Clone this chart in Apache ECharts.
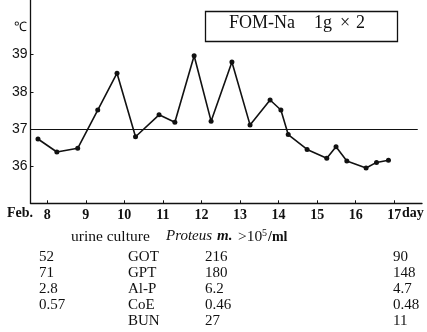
<!DOCTYPE html>
<html>
<head>
<meta charset="utf-8">
<script src="https://cdn.jsdelivr.net/npm/echarts@6/dist/echarts.min.js"></script>
<style>
html,body{margin:0;padding:0;background:#fff;}
#chart{width:427px;height:332px;}
</style>
</head>
<body>
<div id="chart"></div>
<script>
// Day of February (fractional) for each temperature reading
const days = [7.76, 8.25, 8.79, 9.31, 9.81, 10.29, 10.90, 11.31, 11.81, 12.25, 12.79,
              13.26, 13.78, 14.06, 14.25, 14.74, 15.25, 15.49, 15.77, 16.27, 16.54, 16.85];
// Body temperature (℃)
const temps = [36.73, 36.38, 36.48, 37.51, 38.50, 36.79, 37.38, 37.18, 38.97, 37.21, 38.80,
               37.11, 37.78, 37.51, 36.85, 36.45, 36.21, 36.52, 36.14, 35.95, 36.10, 36.16];
const xTicks = [8, 9, 10, 11, 12, 13, 14, 15, 16, 17];
const yTicks = [36, 37, 38, 39];
const normalTemp = 37;
const titleParts = ['FOM-Na', '1g', '×', '2'];

// Laboratory table
const labTests = ['GOT', 'GPT', 'Al-P', 'CoE', 'BUN'];
const labFeb8 = ['52', '71', '2.8', '0.57', ''];
const labFeb12 = ['216', '180', '6.2', '0.46', '27'];
const labFeb17 = ['90', '148', '4.7', '0.48', '11'];

const SERIF = "'Liberation Serif', 'Times New Roman', serif";
const SANS = "'Liberation Sans', Arial, sans-serif";

const chart = echarts.init(document.getElementById('chart'));

const xMin = 7.566, xMax = 17.72, refEnd = 17.61;

const graphics = [];
// Title box
graphics.push({ type: 'rect', left: 203, top: 9, shape: { width: 192, height: 30 },
  style: { fill: 'none', stroke: '#111', lineWidth: 1.3 }, silent: true });
const titleX = [229, 314, 340, 356];
titleParts.forEach((t, i) => {
  graphics.push({ type: 'text', left: titleX[i], top: 14, style: { text: t,
    font: '18px ' + SERIF, fill: '#111' }, silent: true });
});
// Unit label
graphics.push({ type: 'text', left: 14, top: 21, style: { text: '℃',
  font: '13px ' + SERIF, fill: '#111' }, silent: true });
// Axis label extras
graphics.push({ type: 'text', left: 7, top: 206, style: { text: 'Feb.',
  font: 'bold 14px ' + SERIF, fill: '#111' }, silent: true });
graphics.push({ type: 'text', left: 402, top: 206, style: { text: 'day',
  font: 'bold 14px ' + SERIF, fill: '#111' }, silent: true });
// Urine culture line
graphics.push({ type: 'text', left: 71, top: 229, style: { text: 'urine culture',
  font: '15.5px ' + SERIF, fill: '#111' }, silent: true });
graphics.push({ type: 'text', left: 166, top: 229, style: { text: 'Proteus',
  font: 'italic 15px ' + SERIF, fill: '#111' }, silent: true });
graphics.push({ type: 'text', left: 217, top: 229, style: { text: 'm.',
  font: 'italic bold 15px ' + SERIF, fill: '#111' }, silent: true });
graphics.push({ type: 'text', left: 238, top: 229, style: { text: '>10',
  font: '15.5px ' + SERIF, fill: '#111' }, silent: true });
graphics.push({ type: 'text', left: 262, top: 228, style: { text: '5',
  font: '10px ' + SERIF, fill: '#111' }, silent: true });
graphics.push({ type: 'text', left: 268, top: 230, style: { text: '/ml',
  font: 'bold 14px ' + SERIF, fill: '#111' }, silent: true });

// Lab table rows
const colX = [39, 128, 205, 393];
for (let i = 0; i < labTests.length; i++) {
  const y = 257.5 + i * 15.8;
  const cells = [labFeb8[i], labTests[i], labFeb12[i], labFeb17[i]];
  cells.forEach((t, c) => {
    if (!t) return;
    graphics.push({ type: 'text', x: colX[c], y: y, style: { text: t,
      font: '15px ' + SERIF, fill: '#111',
      textVerticalAlign: 'middle', verticalAlign: 'middle' }, silent: true });
  });
}

chart.setOption({
  animation: false,
  backgroundColor: '#fff',
  grid: { left: 30.5, right: 5, top: 0, bottom: 128.7 },
  xAxis: {
    type: 'value', min: xMin, max: xMax,
    splitLine: { show: false },
    axisLine: { show: true, lineStyle: { color: '#111', width: 1.3 } },
    axisTick: { show: true, inside: true, length: 3, customValues: xTicks,
      lineStyle: { color: '#111', width: 1 } },
    axisLabel: { show: true, customValues: xTicks, margin: 5,
      color: '#111', fontFamily: SERIF, fontWeight: 'bold', fontSize: 14 }
  },
  yAxis: {
    type: 'value', min: 35, max: 40.47,
    splitLine: { show: false },
    axisLine: { show: true, lineStyle: { color: '#111', width: 1.3 } },
    axisTick: { show: true, inside: true, length: 3, customValues: yTicks,
      lineStyle: { color: '#111', width: 1 } },
    axisLabel: { show: true, customValues: yTicks, margin: 3,
      color: '#111', fontFamily: SANS, fontSize: 14 }
  },
  series: [{
    type: 'line',
    data: days.map((d, i) => [d, temps[i]]),
    symbol: 'circle', symbolSize: 5,
    itemStyle: { color: '#111' },
    lineStyle: { color: '#111', width: 1.6 },
    silent: true,
    markLine: {
      silent: true, symbol: 'none', label: { show: false },
      lineStyle: { color: '#111', width: 1, type: 'solid' },
      data: [[{ coord: [xMin, normalTemp] }, { coord: [refEnd, normalTemp] }]]
    }
  }],
  graphic: graphics
});
</script>
</body>
</html>
